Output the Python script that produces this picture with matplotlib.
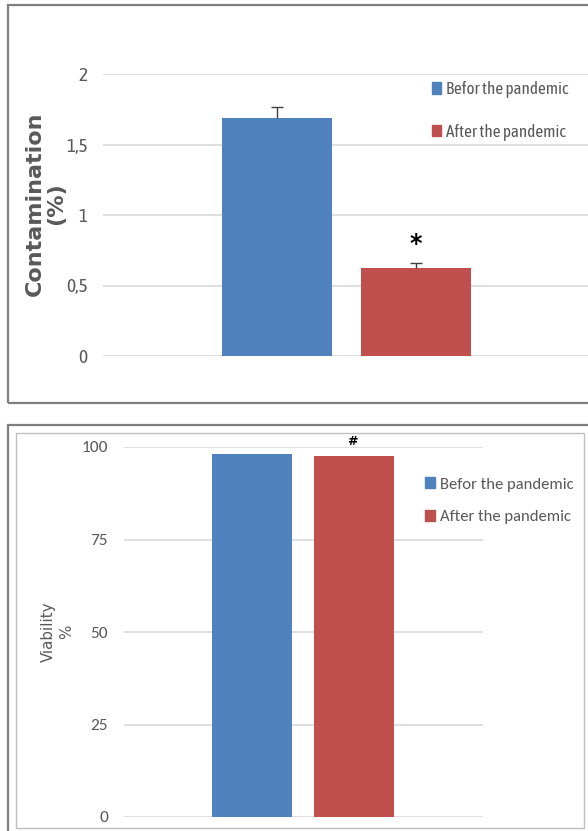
import numpy as np
import matplotlib
matplotlib.use("Agg")
import matplotlib.pyplot as plt
from matplotlib.patches import Rectangle, Patch

# data
groups = ['Befor the pandemic', 'After the pandemic']
colors = ['#4F81BD', '#C0504D']

contam = [1.686, 0.622]
contam_err = [0.082, 0.040]
contam_ticks = [0, 0.5, 1, 1.5, 2]
contam_ticklabels = ['0', '0,5', '1', '1,5', '2']

viab = [98.1, 97.6]
viab_ticks = [0, 25, 50, 75, 100]
viab_ticklabels = ['0', '25', '50', '75', '100']

W, H = 588, 831
fig = plt.figure(figsize=(W / 100, H / 100), dpi=100)

def px_axes(x0, y0, x1, y1):
    # pixel box (top-left origin) -> figure axes
    return fig.add_axes([x0 / W, 1 - y1 / H, (x1 - x0) / W, (y1 - y0) / H])

def px_rect(x0, y0, x1, y1, color, lw):
    r = Rectangle((x0 / W, 1 - y1 / H), (x1 - x0) / W, (y1 - y0) / H,
                  transform=fig.transFigure, fill=False, edgecolor=color, lw=lw)
    fig.patches.append(r)

narrow = ['Asap Condensed', 'Carlito', 'DejaVu Sans']
calib = ['Carlito', 'DejaVu Sans']
txt_col = '#595959'
grid_col = '#D9D9D9'

# panel borders
px_rect(8, 5, 600, 403, '#7F7F7F', 1.6)
px_rect(8, 425, 600, 845, '#7F7F7F', 1.6)
px_rect(16, 433, 584, 828, '#BFBFBF', 1.0)

def style_axes(ax, ticks, ticklabels, family, fsize, pad):
    for s in ax.spines.values():
        s.set_visible(False)
    ax.set_yticks(ticks)
    ax.set_yticklabels(ticklabels, family=family, fontsize=fsize, color=txt_col)
    ax.tick_params(axis='y', length=0, pad=pad)
    ax.set_xticks([])
    ax.yaxis.grid(True, color=grid_col, lw=1.2)
    ax.set_axisbelow(True)
    ax.patch.set_alpha(0)

# top panel: contamination
x = np.arange(len(groups))
ax1 = px_axes(103, 74, 588, 356)
ax1.bar(x, contam, width=0.79, color=colors, zorder=2)
eb = ax1.errorbar(x, contam, yerr=[np.zeros(len(contam)), contam_err], fmt='none',
                  ecolor='#404040', elinewidth=1, capsize=4, capthick=1, zorder=3)
eb[1][0].set_visible(False)   # only the upper cap, as in Excel "plus" bars
ax1.text(x[1], contam[1] + 0.17, '*', ha='center', va='center', fontsize=17,
         fontweight='bold', color='black')
ax1.set_xlim(-1.252, 2.237)
ax1.set_ylim(0, 2)
style_axes(ax1, contam_ticks, contam_ticklabels, narrow, 14, 11)
ax1.set_ylabel('Contamination\n(%)', fontsize=16, fontweight='bold',
               color='#595959', family='DejaVu Sans', linespacing=1.05)
ax1.yaxis.set_label_coords(-37 / 485, 0.539)
handles = [Patch(color=c, label=g) for c, g in zip(colors, groups)]
leg1 = ax1.legend(handles=handles, loc='upper left', bbox_to_anchor=(329 / 485, 0.975),
                  frameon=False, prop={'family': narrow, 'size': 12.3},
                  handlelength=0.55, handleheight=0.65, handletextpad=0.25,
                  labelspacing=1.5, borderaxespad=0, borderpad=0)
for t in leg1.get_texts():
    t.set_color(txt_col)

# bottom panel: viability
ax2 = px_axes(124, 447, 483, 817)
ax2.bar(x, viab, width=0.785, color=colors, zorder=2)
ax2.text(x[1] - 0.02, 101.5, '#', ha='center', va='center', fontsize=9,
         fontweight='bold', color='black')
ax2.set_xlim(-1.255, 2.265)
ax2.set_ylim(0, 100)
style_axes(ax2, viab_ticks, viab_ticklabels, calib, 12.5, 11.5)
ax2.set_ylabel('Viability\n%', fontsize=10.8, color='#595959', family='DejaVu Sans',
               linespacing=1.25)
ax2.yaxis.set_label_coords(-50 / 359, 0.5)
leg2 = ax2.legend(handles=handles, loc='upper left', bbox_to_anchor=(301 / 359, 0.918),
                  frameon=False, prop={'family': calib, 'size': 12},
                  handlelength=0.6, handleheight=0.6, handletextpad=0.3,
                  labelspacing=1.12, borderaxespad=0, borderpad=0)
for t in leg2.get_texts():
    t.set_color(txt_col)

fig.savefig('out.png', dpi=100, facecolor='white')
